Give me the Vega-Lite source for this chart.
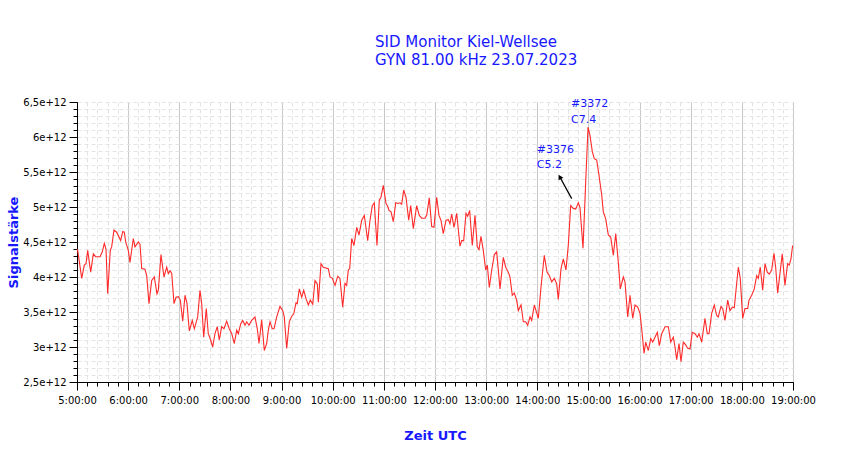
{
  "$schema": "https://vega.github.io/schema/vega-lite/v6.json",
  "width": 716,
  "height": 280,
  "autosize": {"type": "none"},
  "padding": {"left": 77, "top": 102, "right": 57, "bottom": 77},
  "background": "white",
  "title": {
    "text": ["SID Monitor Kiel-Wellsee", "GYN 81.00 kHz 23.07.2023"],
    "anchor": "start",
    "frame": "group",
    "dx": 298,
    "offset": 29,
    "font": "DejaVu Sans",
    "fontSize": 15,
    "fontWeight": "normal",
    "lineHeight": 18,
    "color": "#1818ff"
  },
  "datasets": {
    "sid": [
      {"t": 5.0, "v": 4.40e12}, {"t": 5.014, "v": 4.38e12}, {"t": 5.092, "v": 3.98e12}, {"t": 5.143, "v": 4.17e12},
      {"t": 5.176, "v": 4.19e12}, {"t": 5.209, "v": 4.38e12}, {"t": 5.268, "v": 4.07e12}, {"t": 5.319, "v": 4.33e12},
      {"t": 5.366, "v": 4.29e12}, {"t": 5.45, "v": 4.29e12}, {"t": 5.495, "v": 4.36e12}, {"t": 5.534, "v": 4.48e12},
      {"t": 5.567, "v": 4.40e12}, {"t": 5.6, "v": 3.76e12}, {"t": 5.651, "v": 4.38e12}, {"t": 5.678, "v": 4.43e12},
      {"t": 5.723, "v": 4.67e12}, {"t": 5.776, "v": 4.64e12}, {"t": 5.854, "v": 4.52e12}, {"t": 5.894, "v": 4.65e12},
      {"t": 5.925, "v": 4.64e12}, {"t": 5.952, "v": 4.50e12}, {"t": 6.003, "v": 4.38e12}, {"t": 6.036, "v": 4.21e12},
      {"t": 6.101, "v": 4.55e12}, {"t": 6.134, "v": 4.43e12}, {"t": 6.199, "v": 4.50e12}, {"t": 6.232, "v": 4.47e12},
      {"t": 6.265, "v": 4.12e12}, {"t": 6.33, "v": 4.11e12}, {"t": 6.363, "v": 4.02e12}, {"t": 6.408, "v": 3.62e12},
      {"t": 6.461, "v": 3.95e12}, {"t": 6.511, "v": 4.00e12}, {"t": 6.564, "v": 3.76e12}, {"t": 6.59, "v": 3.81e12},
      {"t": 6.642, "v": 4.32e12}, {"t": 6.701, "v": 4.00e12}, {"t": 6.754, "v": 4.14e12}, {"t": 6.785, "v": 4.05e12},
      {"t": 6.818, "v": 4.09e12}, {"t": 6.852, "v": 4.05e12}, {"t": 6.897, "v": 3.62e12}, {"t": 6.936, "v": 3.71e12},
      {"t": 6.981, "v": 3.72e12}, {"t": 7.02, "v": 3.67e12}, {"t": 7.067, "v": 3.37e12}, {"t": 7.112, "v": 3.74e12},
      {"t": 7.151, "v": 3.62e12}, {"t": 7.196, "v": 3.23e12}, {"t": 7.254, "v": 3.38e12}, {"t": 7.294, "v": 3.26e12},
      {"t": 7.307, "v": 3.29e12}, {"t": 7.36, "v": 3.43e12}, {"t": 7.405, "v": 3.81e12}, {"t": 7.438, "v": 3.62e12},
      {"t": 7.477, "v": 3.14e12}, {"t": 7.528, "v": 3.55e12}, {"t": 7.567, "v": 3.19e12}, {"t": 7.614, "v": 3.10e12},
      {"t": 7.653, "v": 3.00e12}, {"t": 7.698, "v": 3.19e12}, {"t": 7.743, "v": 3.29e12}, {"t": 7.782, "v": 3.10e12},
      {"t": 7.829, "v": 3.29e12}, {"t": 7.874, "v": 3.26e12}, {"t": 7.927, "v": 3.37e12}, {"t": 7.978, "v": 3.26e12},
      {"t": 8.025, "v": 3.19e12}, {"t": 8.076, "v": 3.05e12}, {"t": 8.123, "v": 3.24e12}, {"t": 8.154, "v": 3.19e12},
      {"t": 8.201, "v": 3.33e12}, {"t": 8.24, "v": 3.38e12}, {"t": 8.285, "v": 3.31e12}, {"t": 8.318, "v": 3.36e12},
      {"t": 8.363, "v": 3.31e12}, {"t": 8.416, "v": 3.38e12}, {"t": 8.48, "v": 3.43e12}, {"t": 8.525, "v": 3.26e12},
      {"t": 8.559, "v": 3.05e12}, {"t": 8.611, "v": 3.39e12}, {"t": 8.662, "v": 2.95e12}, {"t": 8.709, "v": 3.05e12},
      {"t": 8.741, "v": 3.24e12}, {"t": 8.774, "v": 3.36e12}, {"t": 8.819, "v": 3.26e12}, {"t": 8.852, "v": 3.26e12},
      {"t": 8.905, "v": 3.43e12}, {"t": 8.969, "v": 3.58e12}, {"t": 9.022, "v": 3.52e12}, {"t": 9.053, "v": 3.43e12},
      {"t": 9.1, "v": 2.98e12}, {"t": 9.151, "v": 3.36e12}, {"t": 9.198, "v": 3.44e12}, {"t": 9.237, "v": 3.47e12},
      {"t": 9.282, "v": 3.63e12}, {"t": 9.307, "v": 3.62e12}, {"t": 9.347, "v": 3.83e12}, {"t": 9.394, "v": 3.71e12},
      {"t": 9.433, "v": 3.81e12}, {"t": 9.478, "v": 3.69e12}, {"t": 9.523, "v": 3.60e12}, {"t": 9.562, "v": 3.67e12},
      {"t": 9.609, "v": 3.61e12}, {"t": 9.654, "v": 3.95e12}, {"t": 9.699, "v": 3.90e12}, {"t": 9.719, "v": 3.64e12},
      {"t": 9.771, "v": 4.19e12}, {"t": 9.816, "v": 4.14e12}, {"t": 9.914, "v": 4.12e12}, {"t": 9.947, "v": 4.00e12},
      {"t": 9.992, "v": 3.98e12}, {"t": 10.045, "v": 3.88e12}, {"t": 10.098, "v": 4.01e12}, {"t": 10.142, "v": 3.98e12},
      {"t": 10.195, "v": 3.57e12}, {"t": 10.24, "v": 3.91e12}, {"t": 10.273, "v": 3.88e12}, {"t": 10.305, "v": 4.10e12},
      {"t": 10.332, "v": 4.12e12}, {"t": 10.371, "v": 4.55e12}, {"t": 10.416, "v": 4.45e12}, {"t": 10.469, "v": 4.71e12},
      {"t": 10.514, "v": 4.60e12}, {"t": 10.567, "v": 4.81e12}, {"t": 10.618, "v": 4.88e12}, {"t": 10.684, "v": 4.52e12},
      {"t": 10.729, "v": 4.81e12}, {"t": 10.774, "v": 5.02e12}, {"t": 10.813, "v": 5.06e12}, {"t": 10.866, "v": 4.45e12},
      {"t": 10.911, "v": 5.10e12}, {"t": 10.944, "v": 5.14e12}, {"t": 10.989, "v": 5.31e12}, {"t": 11.042, "v": 5.05e12},
      {"t": 11.075, "v": 5.01e12}, {"t": 11.101, "v": 4.95e12}, {"t": 11.14, "v": 4.93e12}, {"t": 11.185, "v": 4.79e12},
      {"t": 11.232, "v": 5.06e12}, {"t": 11.282, "v": 5.05e12}, {"t": 11.316, "v": 5.06e12}, {"t": 11.349, "v": 5.04e12},
      {"t": 11.388, "v": 5.24e12}, {"t": 11.433, "v": 5.14e12}, {"t": 11.486, "v": 4.81e12}, {"t": 11.525, "v": 5.02e12},
      {"t": 11.576, "v": 4.69e12}, {"t": 11.642, "v": 5.02e12}, {"t": 11.693, "v": 4.88e12}, {"t": 11.74, "v": 4.84e12},
      {"t": 11.804, "v": 4.84e12}, {"t": 11.838, "v": 4.88e12}, {"t": 11.888, "v": 5.13e12}, {"t": 11.935, "v": 4.72e12},
      {"t": 11.98, "v": 4.71e12}, {"t": 12.033, "v": 5.14e12}, {"t": 12.078, "v": 4.88e12}, {"t": 12.117, "v": 4.81e12},
      {"t": 12.162, "v": 4.62e12}, {"t": 12.215, "v": 4.81e12}, {"t": 12.26, "v": 4.82e12}, {"t": 12.293, "v": 4.76e12},
      {"t": 12.326, "v": 4.90e12}, {"t": 12.371, "v": 4.71e12}, {"t": 12.424, "v": 4.91e12}, {"t": 12.489, "v": 4.44e12},
      {"t": 12.522, "v": 4.52e12}, {"t": 12.561, "v": 4.52e12}, {"t": 12.606, "v": 4.91e12}, {"t": 12.639, "v": 4.87e12},
      {"t": 12.678, "v": 4.95e12}, {"t": 12.729, "v": 4.45e12}, {"t": 12.782, "v": 4.88e12}, {"t": 12.827, "v": 4.43e12},
      {"t": 12.86, "v": 4.39e12}, {"t": 12.899, "v": 4.58e12}, {"t": 12.944, "v": 4.38e12}, {"t": 12.991, "v": 4.10e12},
      {"t": 13.023, "v": 4.17e12}, {"t": 13.062, "v": 3.85e12}, {"t": 13.109, "v": 4.10e12}, {"t": 13.16, "v": 4.32e12},
      {"t": 13.206, "v": 4.36e12}, {"t": 13.271, "v": 3.83e12}, {"t": 13.336, "v": 4.28e12}, {"t": 13.382, "v": 4.14e12},
      {"t": 13.433, "v": 4.07e12}, {"t": 13.466, "v": 4.00e12}, {"t": 13.511, "v": 3.74e12}, {"t": 13.55, "v": 3.77e12},
      {"t": 13.597, "v": 3.67e12}, {"t": 13.629, "v": 3.52e12}, {"t": 13.682, "v": 3.60e12}, {"t": 13.727, "v": 3.36e12},
      {"t": 13.773, "v": 3.36e12}, {"t": 13.812, "v": 3.31e12}, {"t": 13.858, "v": 3.43e12}, {"t": 13.891, "v": 3.38e12},
      {"t": 13.942, "v": 3.60e12}, {"t": 13.975, "v": 3.52e12}, {"t": 14.02, "v": 3.41e12}, {"t": 14.073, "v": 3.86e12},
      {"t": 14.137, "v": 4.31e12}, {"t": 14.19, "v": 4.07e12}, {"t": 14.235, "v": 4.02e12}, {"t": 14.282, "v": 3.93e12},
      {"t": 14.333, "v": 3.98e12}, {"t": 14.38, "v": 3.90e12}, {"t": 14.411, "v": 3.68e12}, {"t": 14.464, "v": 4.12e12},
      {"t": 14.509, "v": 4.26e12}, {"t": 14.561, "v": 4.10e12}, {"t": 14.606, "v": 4.45e12}, {"t": 14.653, "v": 5.02e12},
      {"t": 14.704, "v": 4.98e12}, {"t": 14.751, "v": 4.97e12}, {"t": 14.802, "v": 5.06e12}, {"t": 14.835, "v": 4.99e12},
      {"t": 14.894, "v": 4.41e12}, {"t": 14.947, "v": 5.36e12}, {"t": 14.992, "v": 6.14e12}, {"t": 15.031, "v": 6.02e12},
      {"t": 15.076, "v": 5.79e12}, {"t": 15.115, "v": 5.69e12}, {"t": 15.162, "v": 5.67e12}, {"t": 15.207, "v": 5.45e12},
      {"t": 15.26, "v": 5.17e12}, {"t": 15.291, "v": 4.93e12}, {"t": 15.338, "v": 4.83e12}, {"t": 15.389, "v": 4.60e12},
      {"t": 15.436, "v": 4.57e12}, {"t": 15.487, "v": 4.31e12}, {"t": 15.534, "v": 4.62e12}, {"t": 15.584, "v": 4.21e12},
      {"t": 15.623, "v": 3.83e12}, {"t": 15.682, "v": 4.00e12}, {"t": 15.715, "v": 3.93e12}, {"t": 15.768, "v": 3.43e12},
      {"t": 15.813, "v": 3.74e12}, {"t": 15.866, "v": 3.41e12}, {"t": 15.911, "v": 3.60e12}, {"t": 15.964, "v": 3.57e12},
      {"t": 16.008, "v": 3.48e12}, {"t": 16.042, "v": 3.26e12}, {"t": 16.087, "v": 2.91e12}, {"t": 16.12, "v": 3.07e12},
      {"t": 16.171, "v": 2.95e12}, {"t": 16.218, "v": 3.12e12}, {"t": 16.257, "v": 3.07e12}, {"t": 16.302, "v": 3.14e12},
      {"t": 16.347, "v": 3.21e12}, {"t": 16.386, "v": 3.02e12}, {"t": 16.433, "v": 3.19e12}, {"t": 16.498, "v": 3.29e12},
      {"t": 16.562, "v": 3.29e12}, {"t": 16.609, "v": 3.07e12}, {"t": 16.66, "v": 3.14e12}, {"t": 16.693, "v": 3.00e12},
      {"t": 16.726, "v": 2.82e12}, {"t": 16.771, "v": 3.05e12}, {"t": 16.81, "v": 2.79e12}, {"t": 16.855, "v": 3.07e12},
      {"t": 16.902, "v": 3.03e12}, {"t": 16.941, "v": 2.98e12}, {"t": 16.986, "v": 2.97e12}, {"t": 17.031, "v": 3.21e12},
      {"t": 17.084, "v": 3.19e12}, {"t": 17.129, "v": 3.14e12}, {"t": 17.162, "v": 3.19e12}, {"t": 17.215, "v": 3.07e12},
      {"t": 17.279, "v": 3.41e12}, {"t": 17.324, "v": 3.19e12}, {"t": 17.358, "v": 3.19e12}, {"t": 17.41, "v": 3.48e12},
      {"t": 17.461, "v": 3.60e12}, {"t": 17.508, "v": 3.45e12}, {"t": 17.539, "v": 3.43e12}, {"t": 17.592, "v": 3.58e12},
      {"t": 17.625, "v": 3.55e12}, {"t": 17.67, "v": 3.38e12}, {"t": 17.723, "v": 3.67e12}, {"t": 17.768, "v": 3.52e12},
      {"t": 17.813, "v": 3.57e12}, {"t": 17.852, "v": 3.56e12}, {"t": 17.899, "v": 3.91e12}, {"t": 17.931, "v": 4.14e12},
      {"t": 17.969, "v": 3.98e12}, {"t": 18.016, "v": 3.41e12}, {"t": 18.061, "v": 3.55e12}, {"t": 18.114, "v": 3.55e12},
      {"t": 18.14, "v": 3.67e12}, {"t": 18.192, "v": 3.74e12}, {"t": 18.243, "v": 3.83e12}, {"t": 18.29, "v": 4.02e12},
      {"t": 18.321, "v": 3.98e12}, {"t": 18.36, "v": 4.14e12}, {"t": 18.407, "v": 3.81e12}, {"t": 18.452, "v": 4.19e12},
      {"t": 18.497, "v": 4.07e12}, {"t": 18.536, "v": 4.04e12}, {"t": 18.583, "v": 4.10e12}, {"t": 18.628, "v": 4.34e12},
      {"t": 18.661, "v": 4.14e12}, {"t": 18.7, "v": 3.77e12}, {"t": 18.745, "v": 4.05e12}, {"t": 18.79, "v": 4.33e12},
      {"t": 18.843, "v": 3.88e12}, {"t": 18.895, "v": 4.19e12}, {"t": 18.927, "v": 4.17e12}, {"t": 18.96, "v": 4.26e12},
      {"t": 18.993, "v": 4.45e12}
    ],
    "labels": [
      {"t": 14.66, "v": 6.467e12, "label": "#3372"},
      {"t": 14.66, "v": 6.25e12, "label": "C7.4"},
      {"t": 13.99, "v": 5.81e12, "label": "#3376"},
      {"t": 13.99, "v": 5.596e12, "label": "C5.2"}
    ],
    "arrow": [
      {"t": 14.673, "v": 5.12e12, "t2": 14.44, "v2": 5.43e12}
    ]
  },
  "layer": [
    {
      "data": {"name": "sid"},
      "mark": {"type": "line", "opacity": 0},
      "encoding": {
        "x": {
          "field": "t", "type": "quantitative",
          "scale": {"domain": [5, 19], "nice": false, "zero": false},
          "axis": {
            "orient": "bottom", "tickCount": 70, "labels": false, "domain": false,
            "ticks": true, "tickSize": 4, "tickColor": "#000000",
            "grid": true, "gridColor": "#e4e4e4", "gridDash": [4, 3], "title": null
          }
        },
        "y": {
          "field": "v", "type": "quantitative",
          "scale": {"domain": [2.5e12, 6.5e12], "nice": false, "zero": false},
          "axis": {
            "orient": "left", "tickCount": 40, "labels": false, "domain": false,
            "ticks": true, "tickSize": 4, "tickColor": "#000000",
            "grid": true, "gridColor": "#e4e4e4", "gridDash": [4, 3], "title": null
          }
        }
      }
    },
    {
      "data": {"name": "sid"},
      "mark": {"type": "line", "color": "#ff2a2a", "strokeWidth": 1.1},
      "encoding": {
        "x": {
          "field": "t", "type": "quantitative",
          "scale": {"domain": [5, 19], "nice": false, "zero": false},
          "axis": {
            "orient": "bottom",
            "values": [5, 6, 7, 8, 9, 10, 11, 12, 13, 14, 15, 16, 17, 18, 19],
            "labelExpr": "format(datum.value, 'd') + ':00:00'",
            "grid": true, "gridColor": "#c8c8c8", "gridWidth": 1,
            "domainColor": "#000000", "tickColor": "#000000", "tickSize": 8,
            "labelFont": "DejaVu Sans", "labelFontSize": 10, "labelColor": "#000000",
            "labelPadding": 5, "labelFlush": false,
            "title": "Zeit UTC", "titleFont": "DejaVu Sans", "titleFontSize": 13,
            "titleFontWeight": "bold", "titleColor": "#1818ff", "titlePadding": 24
          }
        },
        "y": {
          "field": "v", "type": "quantitative",
          "scale": {"domain": [2.5e12, 6.5e12], "nice": false, "zero": false},
          "axis": {
            "orient": "left",
            "values": [2.5e12, 3e12, 3.5e12, 4e12, 4.5e12, 5e12, 5.5e12, 6e12, 6.5e12],
            "labelExpr": "replace(format(datum.value / 1e12, '~g'), '.', ',') + 'e+12'",
            "grid": false,
            "domainColor": "#000000", "tickColor": "#000000", "tickSize": 8,
            "labelFont": "DejaVu Sans", "labelFontSize": 10, "labelColor": "#000000",
            "labelPadding": 3, "labelFlush": false,
            "title": "Signalstärke", "titleFont": "DejaVu Sans", "titleFontSize": 13,
            "titleFontWeight": "bold", "titleColor": "#1818ff", "titlePadding": 2
          }
        }
      }
    },
    {
      "data": {"name": "arrow"},
      "mark": {"type": "rule", "color": "#000000", "strokeWidth": 1.2},
      "encoding": {
        "x": {"field": "t", "type": "quantitative", "axis": null},
        "x2": {"field": "t2"},
        "y": {"field": "v", "type": "quantitative", "axis": null},
        "y2": {"field": "v2"}
      }
    },
    {
      "data": {"name": "arrow"},
      "mark": {"type": "point", "shape": "triangle-up", "filled": true, "color": "#000000", "size": 30, "angle": 331, "opacity": 1},
      "encoding": {
        "x": {"field": "t2", "type": "quantitative", "axis": null},
        "y": {"field": "v2", "type": "quantitative", "axis": null}
      }
    },
    {
      "data": {"name": "labels"},
      "mark": {"type": "text", "align": "left", "baseline": "middle", "font": "DejaVu Sans", "fontSize": 11, "color": "#1818ff"},
      "encoding": {
        "x": {"field": "t", "type": "quantitative", "axis": null},
        "y": {"field": "v", "type": "quantitative", "axis": null},
        "text": {"field": "label"}
      }
    }
  ],
  "resolve": {"axis": {"x": "independent", "y": "independent"}},
  "config": {"view": {"stroke": null}}
}
